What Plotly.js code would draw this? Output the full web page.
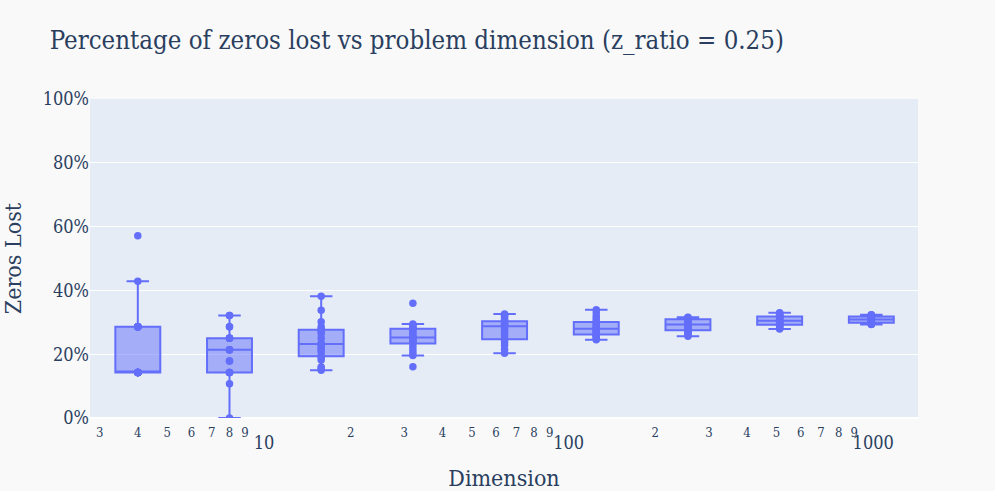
<!DOCTYPE html>
<html>
<head>
<meta charset="utf-8">
<script src="https://cdn.plot.ly/plotly-3.0.1.min.js"></script>
<style>html,body{margin:0;padding:0;background:#f9f9f9;}#chart{width:995px;height:491px;}</style>
</head>
<body>
<div id="chart"></div>
<script>
const dimensions = [4, 8, 16, 32, 64, 128, 256, 512, 1024];

const lost_d4 = [1/7,1/7,1/7,1/7,1/7,1/7,1/7,1/7,1/7,1/7,1/7, 2/7,2/7,2/7,2/7,2/7,2/7,2/7,2/7, 3/7, 4/7];
const lost_d8 = [0,3/28,4/28,4/28,4/28,4/28,5/28,5/28,6/28,6/28,6/28,6/28,7/28,7/28,7/28,7/28,7/28,8/28,8/28,9/28,9/28];
const lost_d16 = [0.150,0.155,0.160,0.182,0.190,0.195,0.208,0.215,0.221,0.228,0.232,0.235,0.250,0.265,0.272,0.276,0.279,0.286,0.302,0.338,0.382];
const lost_d32 = [0.161,0.196,0.205,0.215,0.225,0.236,0.240,0.243,0.246,0.249,0.252,0.256,0.262,0.268,0.274,0.279,0.283,0.287,0.291,0.295,0.360];
const lost_d64 = [0.203,0.215,0.228,0.236,0.243,0.248,0.258,0.266,0.274,0.281,0.288,0.290,0.292,0.295,0.298,0.302,0.308,0.312,0.318,0.322,0.326];
const lost_d128 = [0.245,0.250,0.254,0.257,0.260,0.262,0.266,0.270,0.273,0.277,0.280,0.283,0.286,0.290,0.295,0.300,0.305,0.312,0.320,0.330,0.339];
const lost_d256 = [0.256,0.262,0.266,0.270,0.273,0.276,0.280,0.283,0.286,0.289,0.293,0.296,0.299,0.302,0.305,0.309,0.310,0.312,0.313,0.315,0.316];
const lost_d512 = [0.279,0.283,0.286,0.289,0.291,0.293,0.295,0.298,0.300,0.303,0.305,0.307,0.309,0.311,0.314,0.318,0.320,0.322,0.325,0.328,0.330];
const lost_d1024 = [0.293,0.294,0.295,0.296,0.298,0.299,0.301,0.303,0.305,0.307,0.309,0.310,0.312,0.314,0.316,0.318,0.319,0.320,0.322,0.323,0.324];

const seriesByDim = [lost_d4, lost_d8, lost_d16, lost_d32, lost_d64, lost_d128, lost_d256, lost_d512, lost_d1024];

// log-axis tick labels: decades and the digits in between
const majorTicks = [10, 100, 1000];
const majorLabels = ['10', '100', '1000'];
const minorTicks = [3,4,5,6,7,8,9, 20,30,40,50,60,70,80,90, 200,300,400,500,600,700,800,900];
const minorLabels = ['3','4','5','6','7','8','9', '2','3','4','5','6','7','8','9', '2','3','4','5','6','7','8','9'];

const xs = [], ys = [];
seriesByDim.forEach((vals, i) => {
  vals.forEach(v => { xs.push(dimensions[i]); ys.push(v); });
});

const FONT = '"DejaVu Serif Condensed", "DejaVu Serif", serif';
const XRANGE = [0.4451, 3.1635];

const boxTrace = {
  type: 'box',
  x: xs,
  y: ys,
  boxpoints: 'all',
  jitter: 0,
  pointpos: 0,
  marker: {color: '#636efa', size: 7.5},
  line: {color: '#636efa', width: 2},
  showlegend: false
};

// empty helper trace so the overlaid minor-label axis is drawn
const helperTrace = {
  type: 'scatter',
  mode: 'markers',
  x: dimensions,
  y: dimensions.map(() => null),
  xaxis: 'x2',
  yaxis: 'y',
  hoverinfo: 'skip',
  showlegend: false
};

const layout = {
  width: 995,
  height: 491,
  paper_bgcolor: '#f9f9f9',
  plot_bgcolor: '#E5ECF6',
  margin: {l: 90, r: 77, t: 99, b: 73},
  font: {family: FONT, color: '#2a3f5f', size: 18},
  title: {text: 'Percentage of zeros lost vs problem dimension (z_ratio = 0.25)', font: {size: 25.6, family: FONT}, x: 0.05, y: 0.9185, yanchor: 'middle'},
  xaxis: {
    type: 'log',
    range: XRANGE,
    tickmode: 'array',
    tickvals: majorTicks,
    ticktext: majorLabels,
    showgrid: false,
    zeroline: false,
    ticks: 'outside',
    ticklen: 8,
    tickcolor: 'rgba(0,0,0,0)',
    ticklabelshift: 5,
    title: {text: 'Dimension', font: {size: 23}, standoff: 18},
    tickfont: {size: 18}
  },
  xaxis2: {
    type: 'log',
    range: XRANGE,
    overlaying: 'x',
    anchor: 'y',
    side: 'bottom',
    tickmode: 'array',
    tickvals: minorTicks,
    ticktext: minorLabels,
    showgrid: false,
    zeroline: false,
    showline: false,
    ticks: 'outside',
    ticklen: 2,
    tickcolor: 'rgba(0,0,0,0)',
    tickfont: {size: 13}
  },
  yaxis: {
    range: [0, 1],
    dtick: 0.2,
    tickformat: '.0%',
    gridcolor: 'white',
    zerolinecolor: 'white',
    zerolinewidth: 2,
    title: {text: 'Zeros Lost', font: {size: 23}, standoff: 22},
    tickfont: {size: 18}
  }
};

Plotly.newPlot('chart', [boxTrace, helperTrace], layout, {displayModeBar: false});
</script>
</body>
</html>
